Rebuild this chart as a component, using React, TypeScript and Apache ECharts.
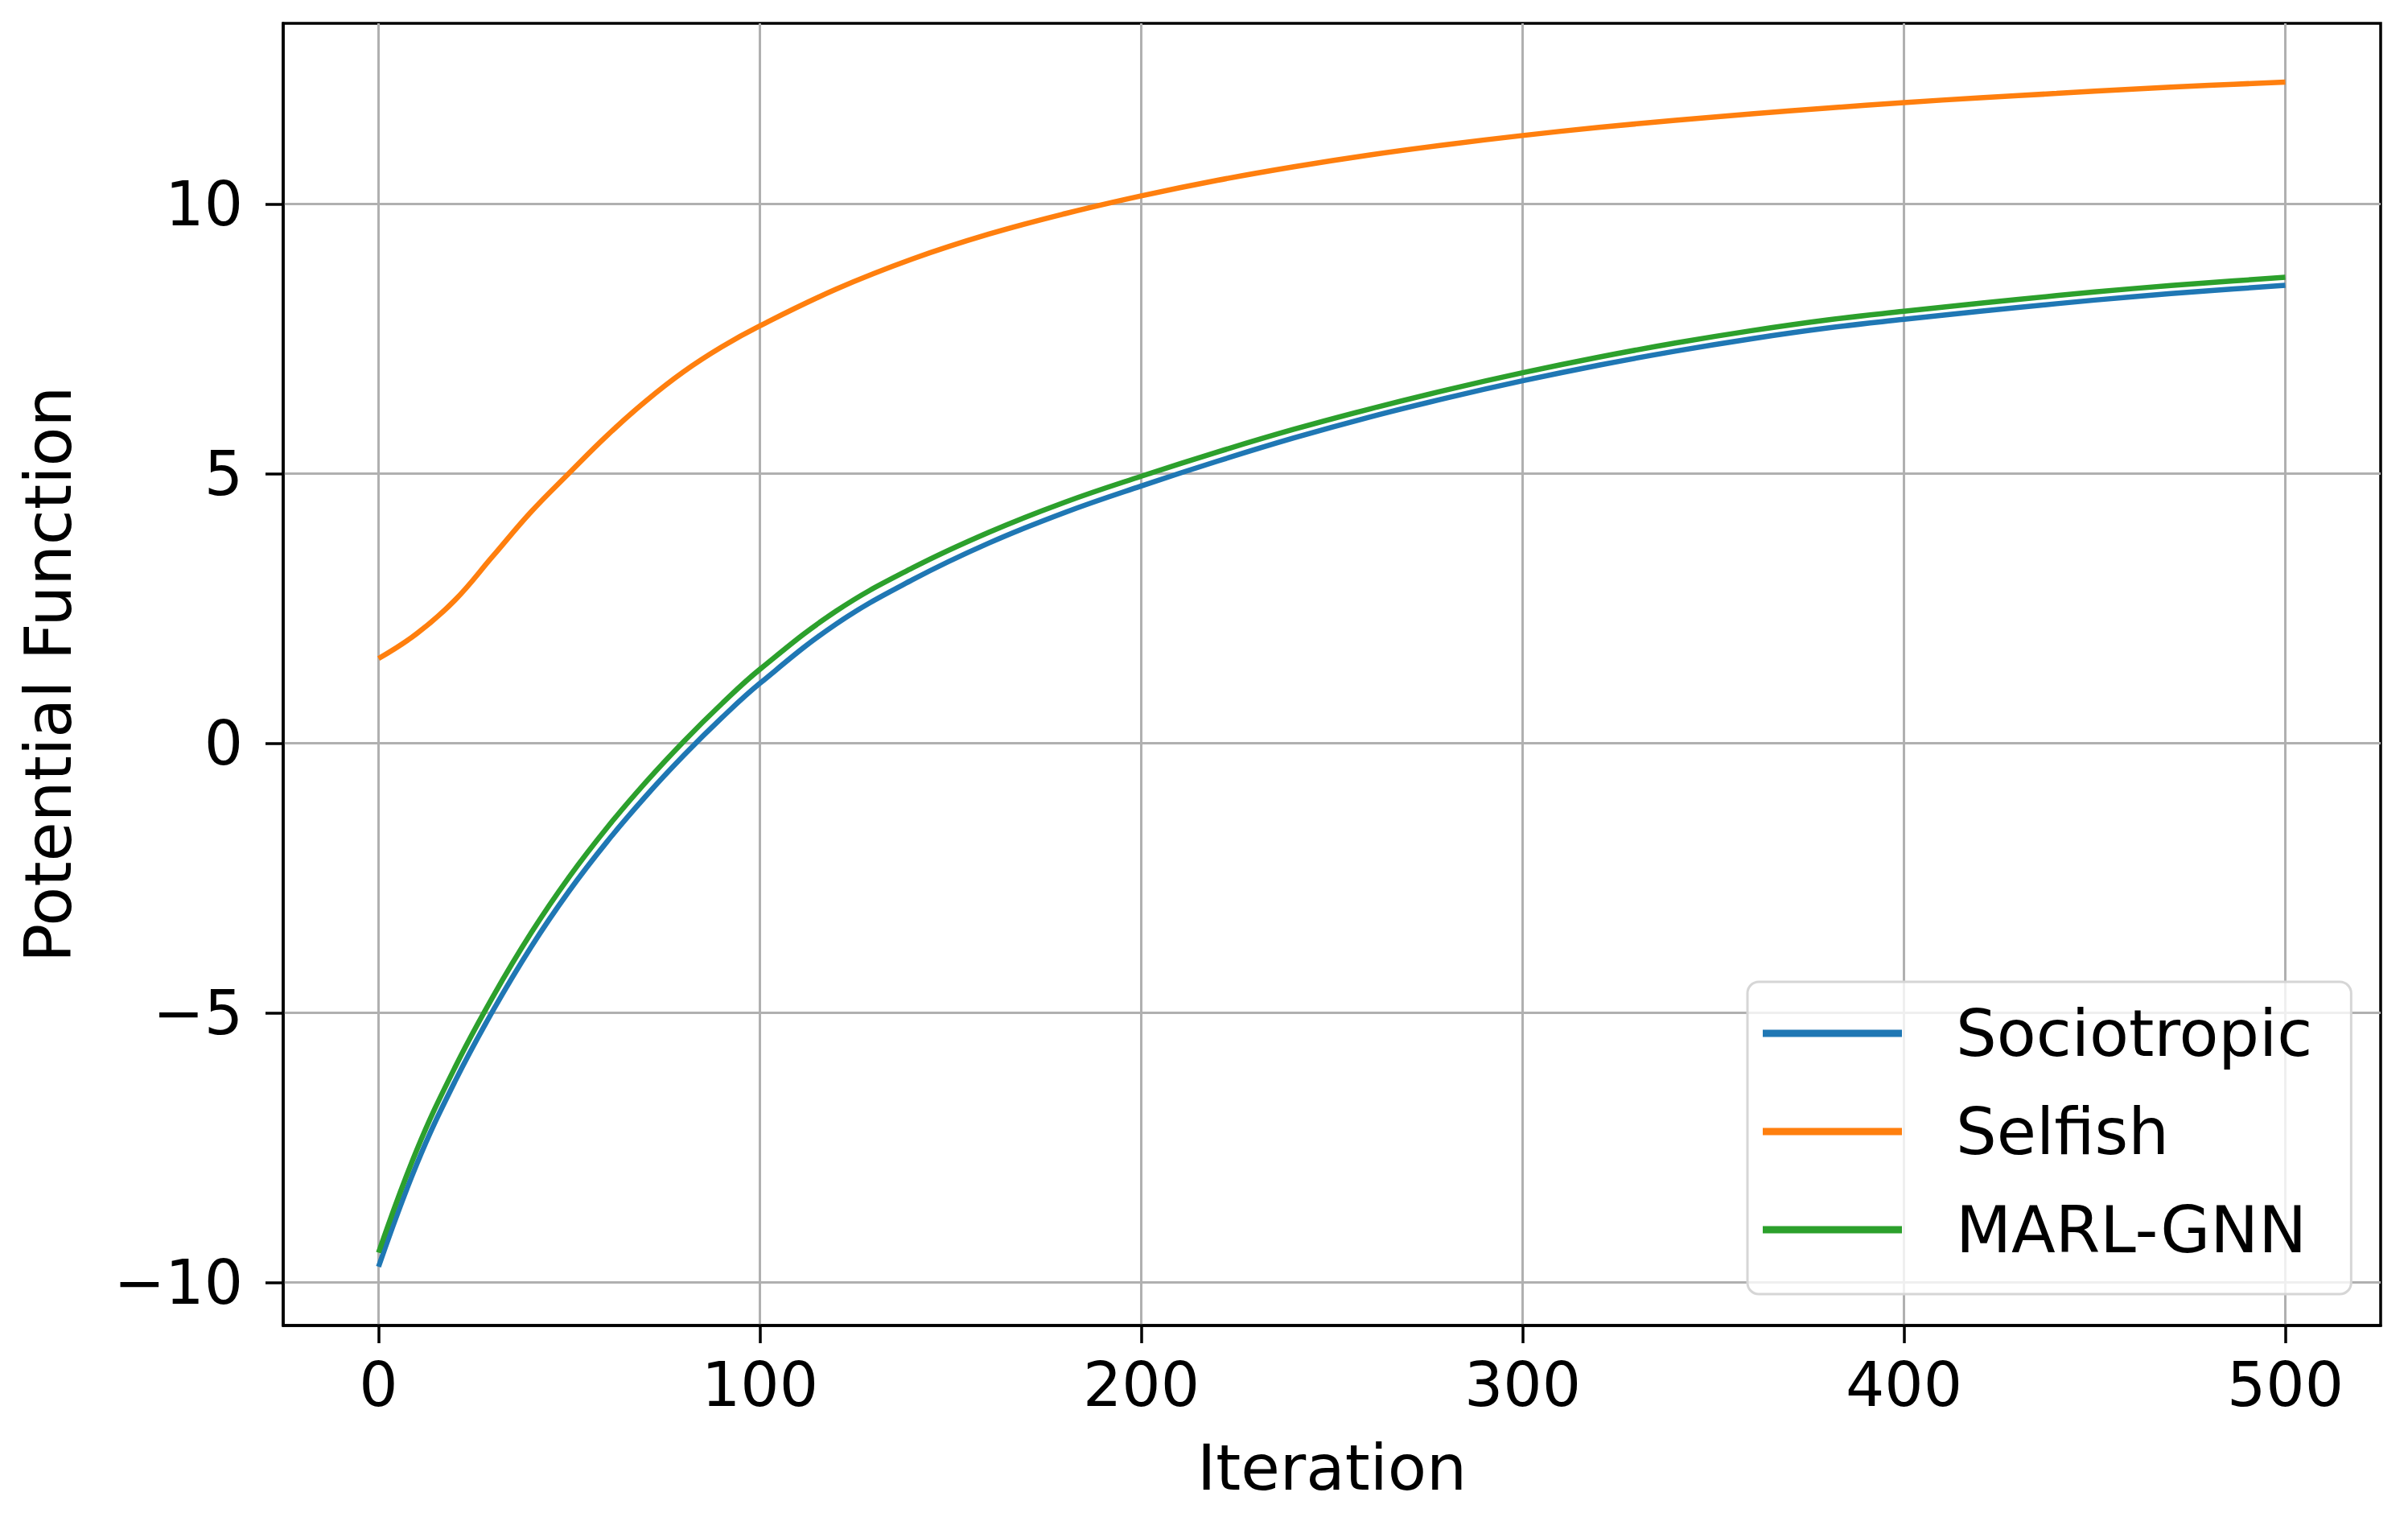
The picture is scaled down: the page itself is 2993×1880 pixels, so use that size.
import React, { useEffect, useRef } from "react";
import * as echarts from "echarts";

const iterations = [0, 10, 20, 30, 40, 50, 60, 70, 80, 90, 100, 120, 140, 160, 180, 200, 220, 240, 260, 280, 300, 320, 340, 360, 380, 400, 420, 440, 460, 480, 500];

const sociotropic = [-9.71, -7.81, -6.28, -4.96, -3.78, -2.74, -1.82, -0.99, -0.23, 0.47, 1.11, 2.21, 3.03, 3.71, 4.28, 4.77, 5.23, 5.66, 6.05, 6.4, 6.72, 7.01, 7.27, 7.5, 7.7, 7.86, 8.01, 8.15, 8.28, 8.39, 8.49];

const selfish = [1.57, 2.03, 2.65, 3.47, 4.29, 5.01, 5.71, 6.34, 6.89, 7.35, 7.74, 8.42, 8.98, 9.44, 9.82, 10.15, 10.44, 10.69, 10.91, 11.1, 11.27, 11.42, 11.55, 11.67, 11.78, 11.88, 11.97, 12.05, 12.13, 12.2, 12.26];

const marlGnn = [-9.45, -7.55, -6.02, -4.7, -3.52, -2.48, -1.56, -0.73, 0.03, 0.73, 1.37, 2.45, 3.25, 3.91, 4.47, 4.95, 5.4, 5.82, 6.2, 6.55, 6.87, 7.16, 7.42, 7.65, 7.85, 8.01, 8.16, 8.3, 8.43, 8.54, 8.64];

const seriesNames = ["Sociotropic", "Selfish", "MARL-GNN"];
const seriesColors = ["#1f77b4", "#ff7f0e", "#2ca02c"];
const xTicks = [0, 100, 200, 300, 400, 500];
const yTicks = [-10, -5, 0, 5, 10];

const FONT = "DejaVu Sans";

export default function App() {
  const ref = useRef<HTMLDivElement>(null);

  useEffect(() => {
    document.body.style.margin = "0";
    if (!ref.current) return;
    const chart = echarts.init(ref.current, null, { renderer: "svg" });
    const values = [sociotropic, selfish, marlGnn];
    const series = values.map((vals, i) => ({
      name: seriesNames[i],
      type: "line",
      data: iterations.map((x, j) => [x, vals[j]]),
      showSymbol: false,
      symbol: "none",
      smooth: 0.4,
      lineStyle: { color: seriesColors[i], width: 6.5 },
      itemStyle: { color: seriesColors[i] },
      z: 3,
    }));

    chart.setOption({
      animation: false,
      backgroundColor: "#ffffff",
      grid: {
        left: 352,
        top: 29,
        right: 34,
        bottom: 233,
        show: true,
        borderColor: "#000000",
        borderWidth: 3.5,
        backgroundColor: "transparent",
      },
      legend: {
        orient: "vertical",
        left: 2172,
        top: 1220,
        padding: [24, 48, 40, 19],
        itemWidth: 173,
        itemHeight: 9,
        itemGap: 42,
        icon: "rect",
        backgroundColor: "rgba(255,255,255,0.8)",
        borderColor: "#d6d6d6",
        borderWidth: 3,
        borderRadius: 14,
        textStyle: {
          fontFamily: FONT,
          fontSize: 80,
          color: "#000000",
          lineHeight: 80,
          padding: [0, 0, 0, 62],
        },
        data: seriesNames,
      },
      xAxis: {
        type: "value",
        min: -25,
        max: 525,
        name: "Iteration",
        nameLocation: "middle",
        nameGap: 137,
        nameTextStyle: { fontFamily: FONT, fontSize: 79, color: "#000000" },
        axisLine: { show: true, onZero: false, lineStyle: { color: "#000000", width: 3.5 } },
        axisTick: {
          show: true,
          inside: false,
          length: 22,
          customValues: xTicks,
          lineStyle: { color: "#000000", width: 3.5 },
        },
        axisLabel: {
          customValues: xTicks,
          fontFamily: FONT,
          fontSize: 76,
          color: "#000000",
          margin: 35,
        },
        splitLine: { show: true, lineStyle: { color: "#b0b0b0", width: 3 } },
      },
      yAxis: {
        type: "value",
        min: -10.8,
        max: 13.35,
        name: "Potential Function",
        nameLocation: "middle",
        nameGap: 252,
        nameRotate: 90,
        nameTextStyle: { fontFamily: FONT, fontSize: 80, color: "#000000" },
        axisLine: { show: true, onZero: false, lineStyle: { color: "#000000", width: 3.5 } },
        axisTick: {
          show: true,
          inside: false,
          length: 22,
          customValues: yTicks,
          lineStyle: { color: "#000000", width: 3.5 },
        },
        axisLabel: {
          customValues: yTicks,
          fontFamily: FONT,
          fontSize: 76,
          color: "#000000",
          margin: 50,
          formatter: (v: number) => String(v).replace("-", "\u2212"),
        },
        splitLine: { show: true, lineStyle: { color: "#b0b0b0", width: 3 } },
      },
      series,
    });

    return () => chart.dispose();
  }, []);

  return (
    <div
      ref={ref}
      style={{ position: "absolute", left: 0, top: 0, width: 2993, height: 1880, background: "#ffffff" }}
    />
  );
}
